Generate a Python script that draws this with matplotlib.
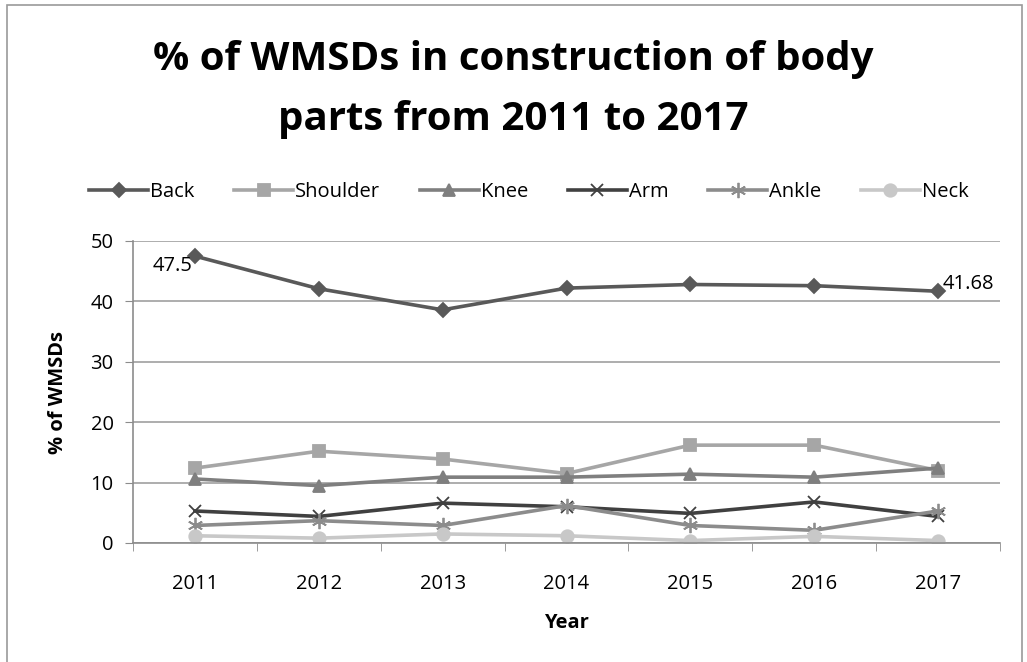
import matplotlib.pyplot as plt
import numpy as np
from matplotlib.patches import Rectangle

years = ['2011', '2012', '2013', '2014', '2015', '2016', '2017']
back = [47.5, 42.1, 38.6, 42.2, 42.8, 42.6, 41.68]
shoulder = [12.4, 15.2, 13.9, 11.5, 16.2, 16.2, 12.0]
knee = [10.6, 9.5, 10.9, 10.9, 11.4, 10.9, 12.4]
arm = [5.3, 4.4, 6.6, 6.0, 4.9, 6.8, 4.4]
ankle = [2.9, 3.7, 2.9, 6.2, 2.9, 2.1, 5.3]
neck = [1.2, 0.8, 1.5, 1.2, 0.4, 1.1, 0.4]

plt.rcParams['font.family'] = ['Open Sans', 'DejaVu Sans']

fig = plt.figure(figsize=(10.27, 6.62), dpi=100)
fig.patches.append(Rectangle((7 / 1027, -0.01), 1015 / 1027, 1 - 5 / 662 + 0.01,
                             transform=fig.transFigure, fill=False,
                             edgecolor='#9a9a9a', linewidth=1.2))
ax = fig.add_axes([133 / 1027, 119 / 662, 867 / 1027, 302 / 662])

x = np.arange(len(years))
series = [
    ('Back', back, '#595959', 'D', 7),
    ('Shoulder', shoulder, '#a6a6a6', 's', 9),
    ('Knee', knee, '#7f7f7f', '^', 9),
    ('Arm', arm, '#404040', 'x', 9),
    ('Ankle', ankle, '#8c8c8c', (6, 2, 0), 11),
    ('Neck', neck, '#c8c8c8', 'o', 9),
]
for name, vals, col, mk, ms in series:
    ax.plot(x, vals, color=col, marker=mk, markersize=ms, linewidth=2.6,
            markeredgewidth=1.3, label=name)

fs = 14.5
ax.annotate('47.5', (x[0], back[0]), xytext=(-2, -7), textcoords='offset points',
            ha='right', va='center', fontsize=fs)
ax.annotate('41.68', (x[-1], back[-1]), xytext=(3, 5), textcoords='offset points',
            ha='left', va='center', fontsize=fs)

ax.set_xlim(-0.5, 6.5)
ax.set_ylim(0, 50)
ax.set_yticks(range(0, 51, 10))
ax.set_xticks(x)
ax.set_xticklabels(years)
ax.set_xticks(np.arange(-0.5, 7, 1), minor=True)
ax.tick_params(axis='x', which='major', length=0, pad=22, labelsize=fs)
ax.tick_params(axis='x', which='minor', length=6, color='#8c8c8c')
ax.tick_params(axis='y', length=6, color='#8c8c8c', labelsize=fs, pad=8)
ax.grid(axis='y', color='#a0a0a0', linewidth=1.2)
ax.set_axisbelow(True)
for s in ['top', 'right']:
    ax.spines[s].set_visible(False)
for s in ['left', 'bottom']:
    ax.spines[s].set_color('#8c8c8c')
    ax.spines[s].set_linewidth(1.2)

ax.set_xlabel('Year', fontsize=fs, fontweight='bold', labelpad=14)
ax.set_ylabel('% of WMSDs', fontsize=fs, fontweight='bold', labelpad=16)

fig.text(0.5, 0.865, '% of WMSDs in construction of body\nparts from 2011 to 2017',
         ha='center', va='center', fontsize=29, fontweight='bold', linespacing=1.7)

fig.legend(loc='center', bbox_to_anchor=(0.515, 0.71), ncol=6, frameon=False,
           fontsize=fs, handlelength=2.9, handletextpad=0.1, columnspacing=2.0)

fig.savefig('out.png', dpi=100)
